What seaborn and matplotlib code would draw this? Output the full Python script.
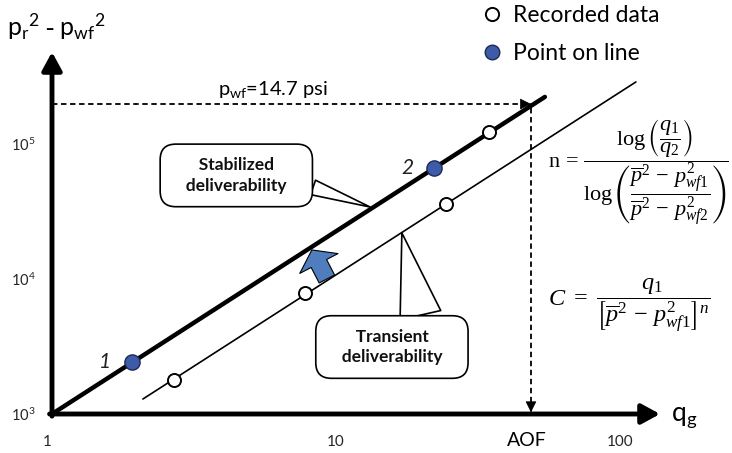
import matplotlib
matplotlib.use("Agg")
import matplotlib.pyplot as plt
import matplotlib.transforms as mtransforms
import seaborn as sns
from matplotlib.lines import Line2D

# Recorded test points: gas rate q_g and p_r^2 - p_wf^2
recorded_q = [2.69, 7.78, 24.4, 34.6]
recorded_dp = [1786, 7870, 35900, 122700]

# Points 1 and 2 picked on the stabilized line
line_point_q = [1.91, 22.1]
line_point_dp = [2427, 66400]
line_point_labels = ["1", "2"]

# End points of the two deliverability lines
stabilized_q = [1.0, 54.4]
stabilized_dp = [1000, 223000]
transient_q = [2.09, 113.8]
transient_dp = [1291, 287900]

# Absolute open flow construction (p_wf = 14.7 psi)
aof_q = 48.6
open_flow_dp = 197600

x_ticks = [1, 10, 100]
x_tick_labels = ["1", "10", "100"]
y_ticks = [1e3, 1e4, 1e5]
y_tick_labels = [r"$\mathsf{10^{3}}$", r"$\mathsf{10^{4}}$", r"$\mathsf{10^{5}}$"]

POINT_BLUE = "#3D5BA9"
ARROW_BLUE = "#4F7DBE"

sns.set_theme(style="white")
plt.rcParams.update({
    "font.family": ["Lato", "DejaVu Sans"],
    "mathtext.fontset": "custom",
    "mathtext.rm": "Liberation Serif",
    "mathtext.it": "Liberation Serif:italic",
    "mathtext.bf": "Liberation Serif:bold",
    "mathtext.sf": "Lato",
    "mathtext.fallback": "stix",
    "text.color": "black",
})

W, H = 732, 453
fig = plt.figure(figsize=(W / 100, H / 100), dpi=100)
fig.patch.set_facecolor("white")
ax = fig.add_axes([52 / W, 39 / H, 608 / W, 362 / H])
ax.set_xscale("log")
ax.set_yscale("log")
ax.set_xlim(1, 10 ** 2.141)
ax.set_ylim(1e3, 10 ** 5.681)
for s in ax.spines.values():
    s.set_visible(False)
ax.set_facecolor("white")

# Deliverability lines
sns.lineplot(x=stabilized_q, y=stabilized_dp, ax=ax, color="black", lw=3.2,
             estimator=None, zorder=3)
sns.lineplot(x=transient_q, y=transient_dp, ax=ax, color="black", lw=1.2,
             estimator=None, zorder=3)

# Data points
sns.scatterplot(x=recorded_q, y=recorded_dp, ax=ax, s=88, color="white",
                edgecolor="black", linewidth=1.4, zorder=5, legend=False)
sns.scatterplot(x=line_point_q, y=line_point_dp, ax=ax, s=120, color=POINT_BLUE,
                edgecolor="#1c2a55", linewidth=1.0, zorder=6, legend=False)
for q, dp, lab in zip(line_point_q, line_point_dp, line_point_labels):
    ax.annotate(lab, (q, dp), xytext=(-19, 0), textcoords="offset points",
                ha="center", va="center", fontsize=15, fontstyle="italic",
                color="#222222")

# Axes drawn as arrows
axis_arrow = dict(arrowstyle="-|>,head_length=0.55,head_width=0.3", lw=3.5,
                  color="black", mutation_scale=20, shrinkA=0, shrinkB=0)
ax.annotate("", xy=(1, 0), xycoords="axes fraction", xytext=(-0.004, 0),
            arrowprops=axis_arrow, annotation_clip=False)
ax.annotate("", xy=(0, 1), xycoords="axes fraction", xytext=(0, -0.006),
            arrowprops=axis_arrow, annotation_clip=False)

# Open-flow construction: dashed lines with arrow heads
dash = dict(color="black", lw=1.3, ls=(0, (3, 2)), zorder=2)
ax.plot([1, aof_q], [open_flow_dp, open_flow_dp], **dash)
ax.plot([aof_q, aof_q], [open_flow_dp * 0.93, 1000], **dash)
head = dict(arrowstyle="-|>,head_length=0.5,head_width=0.25", color="black",
            lw=0.5, mutation_scale=14, shrinkA=0, shrinkB=0)
ax.annotate("", xy=(aof_q, open_flow_dp), xytext=(aof_q * 0.95, open_flow_dp),
            arrowprops=head)
ax.annotate("", xy=(aof_q, 1030), xytext=(aof_q, 1150), arrowprops=head)

ax.text(10 ** 0.5845, 10 ** 5.40, r"$\mathsf{p_{wf}}$=14.7 psi",
        fontsize=14.5, ha="left", va="center")

# Ticks
ax.set_xticks(x_ticks)
ax.set_xticklabels(x_tick_labels)
ax.set_yticks(y_ticks)
ax.set_yticklabels(y_tick_labels)
ax.minorticks_off()
ax.tick_params(axis="x", length=0, labelsize=11, pad=15)
ax.tick_params(axis="y", length=0, labelsize=10.5, pad=12)
first = ax.get_xticklabels()[0]
first.set_transform(first.get_transform()
                    + mtransforms.ScaledTranslation(-0.05, 0, fig.dpi_scale_trans))

# Axis titles
fig.text(7 / W, 1 - 27 / H, r"$\mathsf{p_r{}^{2}\ \text{-}\ p_{wf}{}^{2}}$", fontsize=18,
         ha="left", va="center")
fig.text(671 / W, 1 - 417 / H, r"$\mathsf{q_g}$", fontsize=19, ha="left",
         va="center")
fig.text(527 / W, 1 - 440 / H, "AOF", fontsize=14, ha="center", va="center")

# Callouts
box = dict(boxstyle="round,pad=0.75,rounding_size=0.9", fc="white", ec="black", lw=1.2)
ax.annotate("   Stabilized   \n   deliverability   ", xy=(10 ** 1.120, 10 ** 4.533),
            xytext=(10 ** 0.649, 10 ** 4.767), fontsize=12.5, fontweight="bold",
            ha="center", va="center", linespacing=1.35, bbox=box, color="#111111",
            arrowprops=dict(arrowstyle="wedge,tail_width=1.1,shrink_factor=0.5",
                            fc="white", ec="black", lw=1.2, mutation_scale=10,
                            relpos=(1.0, 0.3), shrinkA=0, shrinkB=0), zorder=4)
ax.annotate("   Transient   \n   deliverability   ", xy=(10 ** 1.232, 10 ** 4.341),
            xytext=(10 ** 1.197, 10 ** 3.496), fontsize=12.5, fontweight="bold",
            ha="center", va="center", linespacing=1.35, bbox=box, color="#111111",
            arrowprops=dict(arrowstyle="wedge,tail_width=3.0,shrink_factor=0.5",
                            fc="white", ec="black", lw=1.2, mutation_scale=10,
                            relpos=(0.75, 1.0), shrinkA=0, shrinkB=0), zorder=4)

# Block arrow: shift from transient to stabilized
ax.annotate("", xy=(10 ** 0.915, 10 ** 4.215), xytext=(10 ** 0.968, 10 ** 4.0),
            arrowprops=dict(arrowstyle="simple,head_length=1.1,head_width=3.1,tail_width=1.25",
                            fc=ARROW_BLUE, ec="black", lw=0.8, mutation_scale=10,
                            shrinkA=0, shrinkB=0), zorder=4)

# Equations
fig.text(548 / W, 1 - 173 / H,
         r"$\mathrm{n}\,=\,\dfrac{\log\left(\dfrac{q_1}{q_2}\right)}"
         r"{\log\left(\dfrac{\overline{p}^2\,-\,p_{wf1}^2}{\overline{p}^2\,-\,p_{wf2}^2}\right)}$",
         fontsize=16, ha="left", va="center")
fig.text(548 / W, 1 - 305 / H,
         r"$C\ =\ \dfrac{q_1}{\left[\overline{p}^2\,-\,p_{wf1}^2\right]^n}$",
         fontsize=17.5, ha="left", va="center")

# Legend
handles = [
    Line2D([], [], ls="none", marker="o", ms=9.5, mfc="white", mec="black", mew=1.4),
    Line2D([], [], ls="none", marker="o", ms=10.5, mfc=POINT_BLUE, mec="#1c2a55", mew=1.0),
]
fig.legend(handles, ["Recorded data", "Point on line"], loc="upper left",
           bbox_to_anchor=(482 / W, 1 - 5 / H), frameon=False, fontsize=16.5,
           handlelength=0.9, handletextpad=0.45, labelspacing=0.75,
           borderpad=0, borderaxespad=0)

fig.savefig("out.png", dpi=100, facecolor="white")
